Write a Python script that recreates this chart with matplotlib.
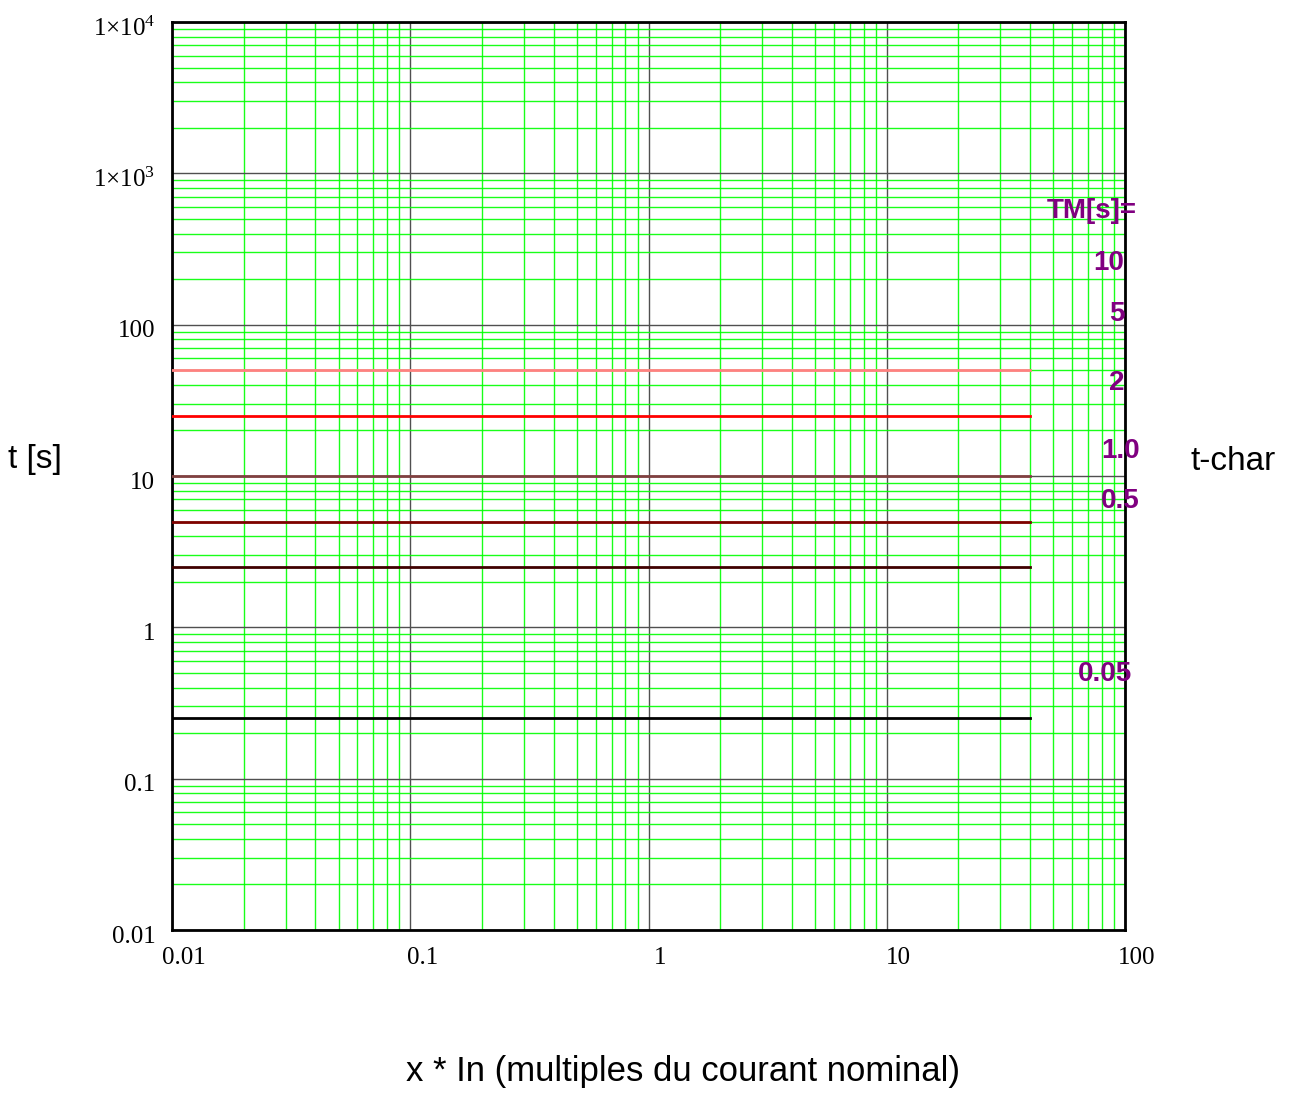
import numpy as np
import matplotlib
matplotlib.use('Agg')
import matplotlib.pyplot as plt
from matplotlib.ticker import FixedLocator, LogLocator, NullFormatter
from matplotlib.transforms import ScaledTranslation

# donnees
TM = ['10', '5', '2', '1.0', '0.5', '0.05']
t_char = [50, 25, 10, 5, 2.5, 0.25]
couleurs = ['#FF8080', '#FF0000', '#804040', '#800000', '#400000', '#000000']
x_debut = 0.01
x_fin = 40

x_ticks = [0.01, 0.1, 1, 10, 100]
x_labels = ['0.01', '0.1', '1', '10', '100']
y_ticks = [0.01, 0.1, 1, 10, 100, 1e3, 1e4]
y_labels = ['0.01', '0.1', '1', '10', '100',
            r'$\mathregular{1{\times}10^{3}}$', r'$\mathregular{1{\times}10^{4}}$']

plt.rcParams['font.family'] = 'Liberation Serif'

fig = plt.figure(figsize=(12.93, 10.93), dpi=100)
ax = fig.add_axes([0.1330, 0.1491, 0.7371, 0.8308])
ax.set_xscale('log')
ax.set_yscale('log')
ax.set_xlim(0.01, 100)
ax.set_ylim(0.01, 1e4)

# grille
ax.xaxis.set_major_locator(FixedLocator(x_ticks))
ax.yaxis.set_major_locator(FixedLocator(y_ticks))
ax.xaxis.set_minor_locator(LogLocator(base=10, subs=np.arange(2, 10), numticks=20))
ax.yaxis.set_minor_locator(LogLocator(base=10, subs=np.arange(2, 10), numticks=20))
ax.xaxis.set_minor_formatter(NullFormatter())
ax.yaxis.set_minor_formatter(NullFormatter())
ax.grid(which='minor', color='#00FF00', linewidth=1.0, alpha=0.9)
ax.grid(which='major', color='#505050', linewidth=1.0)
ax.set_axisbelow(True)

ax.set_xticklabels(x_labels, fontsize=18)
ax.set_yticklabels(y_labels, fontsize=18)
ax.tick_params(which='both', length=0)
ax.tick_params(axis='x', pad=12)
ax.tick_params(axis='y', pad=12)
decal = ScaledTranslation(12 / 100, 0, fig.dpi_scale_trans)
for lab in ax.get_xticklabels():
    lab.set_transform(lab.get_transform() + decal)
decal_y = ScaledTranslation(0, -4 / 100, fig.dpi_scale_trans)
for lab in ax.get_yticklabels():
    lab.set_transform(lab.get_transform() + decal_y)

for s in ax.spines.values():
    s.set_linewidth(2)
    s.set_color('black')

# courbes t-char
for t, c in zip(t_char, couleurs):
    ax.plot([x_debut, x_fin], [t, t], color=c, linewidth=2, zorder=3)

# annotations TM
ann_style = dict(color='#800080', fontweight='bold', fontsize=20,
                 family='Liberation Sans', ha='right', va='center')
fig.text(1137 / 1293, 1 - 211 / 1093, 'TM[s]=', **ann_style)
positions_y = [263, 314, 383, 451, 501, 674]
positions_x = [1124, 1125, 1125, 1140, 1140, 1132]
for lab, px, py in zip(TM, positions_x, positions_y):
    fig.text(px / 1293, 1 - py / 1093, lab, **ann_style)

fig.text(35 / 1293, 1 - 460 / 1093, 't [s]', fontsize=24, family='Liberation Sans',
         ha='center', va='center')
fig.text(1233 / 1293, 1 - 462 / 1093, 't-char', fontsize=24, family='Liberation Sans',
         ha='center', va='center')
fig.text(683 / 1293, 1 - 1072 / 1093, 'x * In (multiples du courant nominal)', fontsize=25,
         family='Liberation Sans', ha='center', va='center')

fig.savefig('out.png', dpi=100)
